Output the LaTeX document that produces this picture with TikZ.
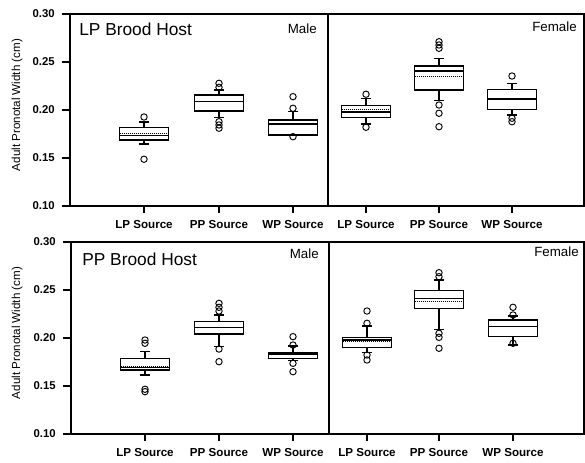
\documentclass[tikz,border=0pt]{standalone}
\usepackage{fontspec}
\setmainfont{Liberation Sans}
% one box: centre, q1, median, q3, low cap, high cap, mean, outliers
\newcommand{\bplot}[8]{%
  \draw[boxline] (#1-24.5,#2) rectangle (#1+24.5,#4);
  \draw[boxline] (#1-24.5,#3) -- (#1+24.5,#3);
  \draw[meanline] (#1-24.5,#7) -- (#1+24.5,#7);
  \draw[boxline] (#1,#4) -- (#1,#6) (#1-5,#6) -- (#1+5,#6);
  \draw[boxline] (#1,#2) -- (#1,#5) (#1-5,#5) -- (#1+5,#5);
  \foreach \ov in {#8} \draw[outl] (#1,\ov) circle[radius=2.4pt];
}

\begin{document}
\begin{tikzpicture}[x=0.75pt, y=0.75pt,
  frame/.style={line width=0.8pt},
  boxline/.style={line width=0.9pt},
  meanline/.style={line width=0.5pt, densely dotted},
  outl/.style={line width=0.7pt},
  ticklab/.style={font=\bfseries\fontsize{8.5}{10}\selectfont, inner sep=0pt, anchor=east},
  srclab/.style={font=\bfseries\fontsize{8.7}{10}\selectfont, inner sep=0pt},
  hosttitle/.style={font=\fontsize{13}{15}\selectfont, inner sep=0pt, anchor=west},
  sexlab/.style={font=\fontsize{10}{12}\selectfont, inner sep=0pt, anchor=east},
  ytitle/.style={font=\fontsize{8.7}{10}\selectfont, inner sep=0pt, rotate=90}]
 \useasboundingbox (0,0) rectangle (585,463);

 % LP brood host
 \begin{scope}[y=720pt, yshift=120.75pt]
  \draw[frame] (70,0.10) rectangle (584,0.30);
  \draw[frame] (328,0.10) -- (328,0.30);
  \foreach \v/\t in {0.10/0.10, 0.15/0.15, 0.20/0.20, 0.25/0.25, 0.30/0.30} {
   \draw[frame] (70,\v) -- (62,\v);
   \node[ticklab] (tA\t) at (55,\v) {\t};
  }
  \foreach \x/\s [count=\i] in {144/LP, 219/PP, 293/WP, 366/LP, 439/PP, 512/WP} {
   \draw[frame] (\x,0.10) -- ++(0,-5pt);
   \node[srclab] (sA\i) at (\x,0.0812) {\s{} Source};
  }
  \node[ytitle] (yA) at (17,0.2052) {Adult Pronotal Width (cm)};
  \node[hosttitle] (hA) at (79,0.2844) {LP Brood Host};
  \node[sexlab] (mA) at (317,0.2844) {Male};
  \node[sexlab] (fA) at (577,0.2865) {Female};

  \bplot{144}{0.1688}{0.1732}{0.1816}{0.1646}{0.1875}{0.1757}{0.1927, 0.1487}
  \bplot{219}{0.1990}{0.2086}{0.2156}{0.1924}{0.2208}{0.2086}{0.2278, 0.2236, 0.1878, 0.1844, 0.1810}
  \bplot{293}{0.1740}{0.1854}{0.1896}{0.1735}{0.1982}{0.1865}{0.2018, 0.2139, 0.1722}
  \bplot{366}{0.1924}{0.1980}{0.2049}{0.1854}{0.2122}{0.2005}{0.2164, 0.1820}
  \bplot{439}{0.2208}{0.2406}{0.2458}{0.2097}{0.2539}{0.2347}{0.2711, 0.2677, 0.2643, 0.2052, 0.1966, 0.1826}
  \bplot{512}{0.2007}{0.2115}{0.2216}{0.1948}{0.2278}{0.2115}{0.2354, 0.1914, 0.1878}
 \end{scope}

 % PP brood host
 \begin{scope}[y=720pt, yshift=-50.25pt]
  \draw[frame] (71,0.10) rectangle (584,0.30);
  \draw[frame] (329,0.10) -- (329,0.30);
  \foreach \v/\t in {0.10/0.10, 0.15/0.15, 0.20/0.20, 0.25/0.25, 0.30/0.30} {
   \draw[frame] (71,\v) -- (63,\v);
   \node[ticklab] (tB\t) at (56,\v) {\t};
  }
  \foreach \x/\s [count=\i] in {145/LP, 219/PP, 293/WP, 367/LP, 439/PP, 513/WP} {
   \draw[frame] (\x,0.10) -- ++(0,-5pt);
   \node[srclab] (sB\i) at (\x,0.0812) {\s{} Source};
  }
  \node[ytitle] (yB) at (17,0.2052) {Adult Pronotal Width (cm)};
  \node[hosttitle] (hB) at (82,0.2823) {PP Brood Host};
  \node[sexlab] (mB) at (319,0.2875) {Male};
  \node[sexlab] (fB) at (579,0.2896) {Female};

  \bplot{145}{0.1667}{0.1695}{0.1789}{0.1615}{0.1857}{0.1708}{0.1979, 0.1945, 0.1466, 0.1441}
  \bplot{219}{0.2042}{0.2107}{0.2170}{0.1910}{0.2240}{0.2107}{0.2361, 0.2320, 0.2281, 0.1885, 0.1753}
  \bplot{293}{0.1789}{0.1833}{0.1847}{0.1764}{0.1917}{0.1833}{0.2014, 0.1927, 0.1736, 0.1649}
  \bplot{367}{0.1903}{0.1979}{0.2007}{0.1847}{0.2125}{0.1969}{0.2281, 0.2153, 0.1823, 0.1771}
  \bplot{439}{0.2309}{0.2414}{0.2493}{0.2091}{0.2604}{0.2378}{0.2680, 0.2639, 0.2049, 0.2007, 0.1893}
  \bplot{513}{0.2014}{0.2118}{0.2188}{0.1927}{0.2229}{0.2118}{0.2320, 0.2240, 0.1945}
 \end{scope}
\end{tikzpicture}
\end{document}
